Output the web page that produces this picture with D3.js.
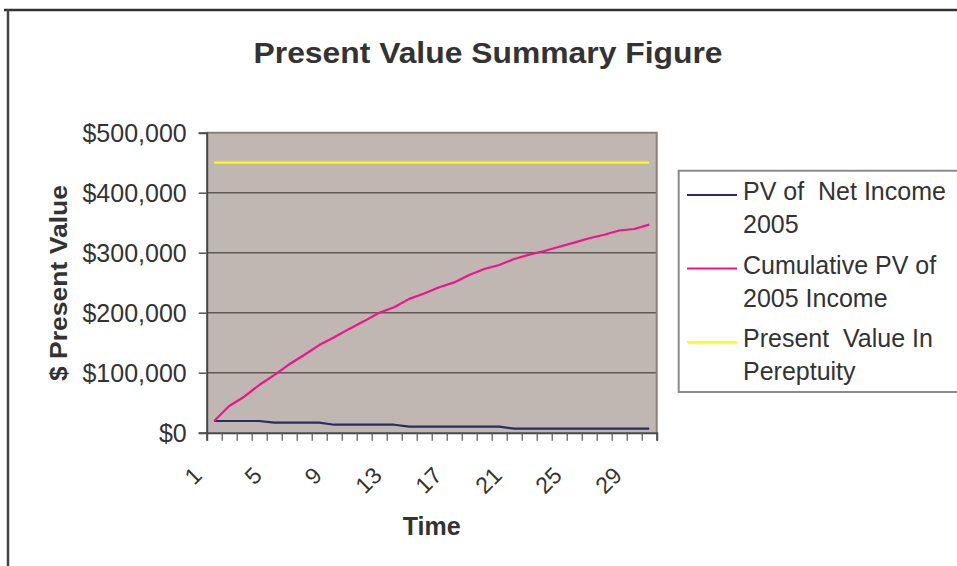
<!DOCTYPE html>
<html>
<head>
<meta charset="utf-8">
<script src="https://cdn.jsdelivr.net/npm/d3@7"></script>
<style>
  html, body { margin: 0; padding: 0; background: #fff; }
  svg { display: block; font-family: "Liberation Sans", Arial, Helvetica, sans-serif; }
</style>
</head>
<body>
<svg id="chart" width="957" height="566"></svg>
<script>
// ---- data ----
const periods = d3.range(1, 31);
const pvNetIncome = [19500, 19500, 19500, 19500, 16700, 16700, 16700, 16700, 13300, 13300,
                     13300, 13300, 13300, 10000, 10000, 10000, 10000, 10000, 10000, 10000,
                     6700, 6700, 6700, 6700, 6700, 6700, 6700, 6700, 6700, 6700];
const cumulativePV = [19500, 44500, 60000, 79500, 96000, 114000, 129500, 146000, 159000, 173000,
                      186000, 200000, 209000, 223000, 232000, 242500, 250500, 262800, 272800, 279500,
                      289500, 296700, 302800, 310000, 316700, 324000, 330000, 337000, 339500, 346700];
const perpetuity = periods.map(() => 450000);
const yTicks = [0, 100000, 200000, 300000, 400000, 500000];
const xLabelTicks = [1, 5, 9, 13, 17, 21, 25, 29];
const seriesNames = [["PV of  Net Income", "2005"], ["Cumulative PV of", "2005 Income"], ["Present  Value In", "Pereptuity"]];
const seriesColors = ["#2b2b63", "#f0148c", "#ffff00"];
const chartTitle = "Present Value Summary Figure";
const xTitle = "Time";
const yTitle = "$ Present Value";

const series = [pvNetIncome, cumulativePV, perpetuity];

// ---- layout ----
const svg = d3.select("#chart");
const L = 206.7, R = 656.7, T = 132.7, B = 432.7;
const x = d3.scaleLinear().domain([0.5, 30.5]).range([L, R]);
const y = d3.scaleLinear().domain([0, 500000]).range([B, T]);
const textColor = "#333";

// outer frame
svg.append("line").attr("x1", 4).attr("x2", 957).attr("y1", 10).attr("y2", 10)
  .attr("stroke", "#333").attr("stroke-width", 2.5);
svg.append("line").attr("x1", 8).attr("x2", 8).attr("y1", 9).attr("y2", 566)
  .attr("stroke", "#444").attr("stroke-width", 2.5);

// title
svg.append("text").attr("x", 488).attr("y", 63).attr("text-anchor", "middle")
  .attr("font-size", 29).attr("font-weight", "bold").attr("fill", textColor)
  .attr("textLength", 469).attr("lengthAdjust", "spacingAndGlyphs")
  .text(chartTitle);

// plot background
svg.append("rect").attr("x", L).attr("y", T).attr("width", R - L).attr("height", B - T)
  .attr("fill", "#c0b7b3");

// gridlines
svg.append("g").selectAll("line").data(yTicks.filter(v => v > 0 && v < 500000)).join("line")
  .attr("x1", L).attr("x2", R).attr("y1", d => y(d)).attr("y2", d => y(d))
  .attr("stroke", "#5e5a58").attr("stroke-width", 1.5);

// plot border (top, right)
svg.append("path")
  .attr("d", `M${L},${T}H${R}V${B}`)
  .attr("fill", "none").attr("stroke", "#8a817d").attr("stroke-width", 2);

// y axis
const yAxis = svg.append("g").attr("transform", `translate(${L},0)`)
  .call(d3.axisLeft(y).tickValues(yTicks).tickSize(8).tickPadding(12).tickFormat(d3.format("$,")));
yAxis.select(".domain").attr("stroke", "#4a4646").attr("stroke-width", 2);
yAxis.selectAll(".tick line").attr("stroke", "#555").attr("stroke-width", 1.5);
yAxis.selectAll(".tick text").attr("font-size", 25).attr("fill", textColor)
  .attr("font-family", "Liberation Sans, Arial, sans-serif").attr("dy", "0.36em");

// x axis ticks at category boundaries
const boundaries = d3.range(0, 31).map(k => k + 0.5);
const xAxis = svg.append("g").attr("transform", `translate(0,${B})`)
  .call(d3.axisBottom(x).tickValues(boundaries).tickSize(8).tickFormat(""));
xAxis.select(".domain").attr("stroke", "#4a4646").attr("stroke-width", 2);
xAxis.selectAll(".tick line").attr("stroke", "#555").attr("stroke-width", 1.2);

// x labels rotated
svg.append("g").selectAll("text").data(xLabelTicks).join("text")
  .attr("transform", d => `translate(${x(d) - 11},477) rotate(-45)`)
  .attr("text-anchor", "end").attr("font-size", 23).attr("fill", textColor)
  .text(d => d);

// axis titles
svg.append("text").attr("x", 431.7).attr("y", 535).attr("text-anchor", "middle")
  .attr("font-size", 25).attr("font-weight", "bold").attr("fill", textColor)
  .text(xTitle);
svg.append("text").attr("transform", "translate(66.5,283) rotate(-90)")
  .attr("text-anchor", "middle").attr("font-size", 23).attr("font-weight", "bold").attr("fill", textColor)
  .attr("textLength", 196).attr("lengthAdjust", "spacingAndGlyphs")
  .text(yTitle);

// lines
const line = d3.line().x((d, i) => x(periods[i])).y(d => y(d));
svg.append("g").selectAll("path").data(series).join("path")
  .attr("d", d => line(d))
  .attr("fill", "none")
  .attr("stroke", (d, i) => seriesColors[i])
  .attr("stroke-width", 2.2)
  .attr("stroke-linejoin", "round");

// legend
const lgX = 678.7, lgT = 170.7, lgB = 392;
svg.append("path").attr("d", `M960,${lgT}H${lgX}V${lgB}H960`)
  .attr("fill", "#fff").attr("stroke", "#8c8c8c").attr("stroke-width", 2);
const lgY = [195, 268.5, 342];
const lg = svg.append("g").selectAll("g").data(seriesNames).join("g")
  .attr("transform", (d, i) => `translate(0,${lgY[i]})`);
lg.append("line").attr("x1", 687).attr("x2", 737).attr("y1", 0).attr("y2", 0)
  .attr("stroke", (d, i) => seriesColors[i]).attr("stroke-width", 2);
lg.each(function(d) {
  const g = d3.select(this);
  d.forEach((s, j) => {
    g.append("text").attr("x", 743).attr("y", j === 0 ? 5 : 38)
      .attr("font-size", 25).attr("fill", textColor)
      .attr("xml:space", "preserve").style("white-space", "pre")
      .text(s);
  });
});
</script>
</body>
</html>
